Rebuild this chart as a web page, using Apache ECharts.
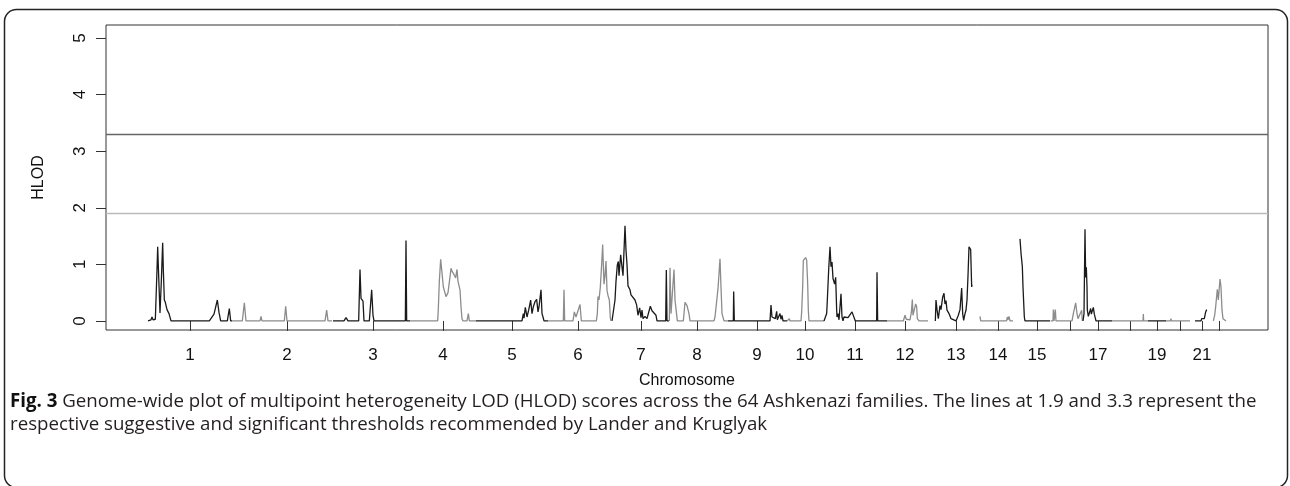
<!DOCTYPE html>
<html><head><meta charset="utf-8">
<script src="https://cdn.jsdelivr.net/npm/echarts@6/dist/echarts.min.js"></script>
<style>html,body{margin:0;padding:0;background:#fff}#c{width:1290px;height:486px}</style>
</head><body><div id="c"></div>
<script>
// Chromosome labels and tick positions (cumulative cM, chromosome centres)
const chromosomes = ['1','2','3','4','5','6','7','8','9','10','11','12','13','14','15','16','17','18','19','20','21','22'];
const chromMid = [252,543,801,1011,1218,1416,1605,1773,1953,2097,2247,2397,2550,2676,2793,2892,2976,3072,3153,3222,3288,3340];
const hiddenLabels = ['16','18','20','22'];
const yTicks = [0,1,2,3,4,5];
const thresholds = [1.9, 3.3];

// HLOD profiles per chromosome: [cumulative position (cM), HLOD]
const chr1 = [[126,0],[135,0.02],[138,0.07],[141,0.02],[148,0.03],[153,0.9],[155,1.31],[158,0.8],[162,0.14],[166,0.7],[170,1.38],[172,0.9],[175,0.37],[178,0.33],[183,0.2],[186,0.22],[189,0.13],[192,0.1],[195,0],[310,0],[324,0.12],[334,0.37],[339,0.15],[344,0],[364,0],[370,0.22],[374,0],[378,0]];
const chr2 = [[378,0],[409,0],[415,0.32],[420,0],[462,0],[465,0.08],[468,0],[535,0],[539,0.26],[543,0],[657,0],[662,0.19],[666,0],[678,0]];
const chr3 = [[681,0],[714,0],[720,0.06],[726,0],[758,0],[762,0.91],[765,0.4],[768,0.42],[771,0.35],[774,0],[790,0],[797,0.55],[801,0.1],[804,0],[898,0],[900,1.42],[902,0],[912,0]];
const chr4 = [[912,0],[929,0],[930,0.02],[932,0],[995,0],[997,0.22],[1000,0.7],[1004,1.09],[1008,0.85],[1012,0.6],[1016,0.62],[1020,0.43],[1026,0.5],[1032,0.78],[1035,0.93],[1038,0.88],[1044,0.82],[1049,0.76],[1053,0.91],[1056,0.7],[1059,0.68],[1062,0.55],[1065,0.25],[1068,0.04],[1071,0],[1083,0],[1087,0.13],[1090,0],[1110,0]];
const chr5 = [[1110,0],[1248,0],[1252,0.13],[1254,0.05],[1258,0.24],[1263,0.07],[1268,0.19],[1274,0.37],[1278,0.13],[1282,0.25],[1287,0.34],[1292,0.38],[1296,0.16],[1299,0.25],[1305,0.55],[1308,0.13],[1311,0.07],[1314,0],[1326,0]];
const chr6 = [[1326,0],[1372,0],[1374,0.55],[1376,0],[1401,0],[1405,0.16],[1410,0.07],[1414,0.1],[1422,0.29],[1426,0],[1471,0],[1474,0.13],[1476,0.43],[1479,0.37],[1483,0.6],[1487,1.0],[1490,1.35],[1494,0.65],[1497,0.8],[1500,1.06],[1503,0.54],[1506,0.45],[1510,0.37],[1513,0.05],[1515,0]];
const chr7 = [[1518,0],[1522,0],[1527,0.37],[1530,0.7],[1534,0.99],[1537,1.05],[1539,0.8],[1544,1.17],[1548,0.95],[1551,0.8],[1557,1.68],[1560,1.25],[1563,1.0],[1566,0.62],[1572,0.55],[1575,0.46],[1581,0.47],[1587,0.37],[1592,0.28],[1596,0.1],[1601,0.23],[1605,0.06],[1608,0.19],[1611,0.04],[1617,0.08],[1623,0.04],[1629,0.05],[1633,0.26],[1638,0.18],[1644,0.17],[1650,0.1],[1653,0],[1679,0],[1681,0.9],[1683,0],[1689,0]];
const chr8 = [[1690,0],[1692,0.94],[1695,0.13],[1698,0.1],[1704,0.91],[1707,0.37],[1712,0.37],[1714,0],[1732,0],[1737,0.33],[1743,0.27],[1749,0.13],[1752,0],[1824,0],[1827,0.07],[1832,0.1],[1836,0.57],[1842,1.1],[1845,0.6],[1848,0.13],[1854,0],[1866,0]];
const chr9 = [[1866,0],[1882,0],[1883,0.52],[1885,0],[1992,0],[1995,0.28],[1998,0.07],[2008,0.04],[2012,0.17],[2014,0.02],[2022,0.13],[2025,0.03],[2028,0.1],[2031,0],[2043,0]];
const chr10 = [[2043,0],[2048,0],[2050,0.04],[2052,0],[2085,0],[2087,0.16],[2090,0.6],[2092,1.07],[2096,1.1],[2099,1.12],[2102,1.07],[2105,0.66],[2107,0.19],[2109,0],[2154,0]];
const chr11 = [[2154,0],[2159,0],[2162,0.13],[2164,0.37],[2168,0.9],[2172,1.31],[2175,0.96],[2178,1.04],[2181,0.75],[2186,0.65],[2189,0.77],[2192,0.19],[2193,0.07],[2196,0.13],[2199,0.02],[2205,0.48],[2208,0.07],[2211,0],[2214,0.07],[2220,0.1],[2226,0.06],[2232,0.07],[2238,0.16],[2244,0.15],[2248,0],[2312,0],[2313,0.86],[2315,0],[2343,0]];
const chr12 = [[2343,0],[2392,0],[2397,0.1],[2401,0.03],[2406,0.04],[2412,0.02],[2416,0.15],[2419,0.38],[2421,0.1],[2425,0.07],[2429,0.3],[2432,0.25],[2434,0.04],[2439,0],[2466,0]];
const chr13 = [[2488,0],[2490,0.37],[2493,0.2],[2497,0.04],[2502,0.27],[2505,0.2],[2510,0.42],[2514,0.49],[2517,0.3],[2520,0.36],[2523,0.19],[2529,0.13],[2535,0.04],[2541,0.02],[2550,0],[2557,0.1],[2562,0.2],[2567,0.58],[2570,0.13],[2573,0.01],[2577,0.13],[2580,0.19],[2583,0.37],[2586,0.8],[2589,1.31],[2592,1.28],[2594,1.26],[2597,0.6],[2598,0.64]];
const chr14 = [[2622,0.08],[2624,0],[2702,0],[2704,0.07],[2706,0.02],[2709,0.08],[2712,0],[2721,0]];
const chr15 = [[2742,1.45],[2745,1.2],[2749,0.96],[2751,0.6],[2755,0.07],[2757,0],[2832,0]];
const chr16 = [[2834,0],[2841,0],[2842,0.2],[2844,0],[2847,0],[2848,0.2],[2850,0],[2898,0],[2902,0.13],[2909,0.32],[2913,0.13],[2916,0.04],[2922,0.03],[2927,0.19],[2929,0]];
const chr17 = [[2931,0],[2934,0.13],[2937,1.62],[2939,0.77],[2941,0.95],[2943,0.6],[2944,0.19],[2947,0.08],[2954,0.22],[2956,0.12],[2962,0.24],[2965,0.12],[2970,0],[3018,0]];
const chr18 = [[3018,0],[3040,0],[3042,0.03],[3043,0],[3111,0],[3112,0.12],[3113,0],[3126,0]];
const chr19 = [[3126,0],[3150,0],[3180,0]];
const chr20 = [[3180,0],[3193,0],[3195,0.04],[3196,0],[3252,0]];
const chr21 = [[3267,0],[3285,0],[3287,0.04],[3291,0.02],[3295,0.04],[3299,0.16],[3302,0.2]];
const chr22 = [[3322,0],[3326,0.1],[3329,0.25],[3334,0.56],[3337,0.37],[3342,0.74],[3345,0.6],[3348,0.19],[3351,0.04],[3360,0]];

const chromData = [chr1,chr2,chr3,chr4,chr5,chr6,chr7,chr8,chr9,chr10,chr11,chr12,chr13,chr14,chr15,chr16,chr17,chr18,chr19,chr20,chr21,chr22];

const FONT = 'Liberation Sans';
const CAP_FONT = 'Open Sans';
const BLACK = '#1a1a1a', GREY = '#8c8c8c';

const series = chromData.map((d, i) => ({
  type: 'line', name: 'chr' + chromosomes[i], data: d,
  showSymbol: false, symbol: 'none', silent: true, animation: false, z: 3,
  lineStyle: { color: i % 2 === 0 ? BLACK : GREY, width: 1.3 },
  itemStyle: { color: i % 2 === 0 ? BLACK : GREY }
}));
series[0].markLine = {
  silent: true, symbol: 'none', animation: false, label: { show: false },
  data: [
    { yAxis: thresholds[1], lineStyle: { color: '#666', width: 1.3, type: 'solid' } },
    { yAxis: thresholds[0], lineStyle: { color: '#bbb', width: 1.3, type: 'solid' } }
  ]
};

const labelValues = chromMid.filter((v, i) => !hiddenLabels.includes(chromosomes[i]));

const chart = echarts.init(document.getElementById('c'), null, { renderer: 'canvas' });
chart.setOption({
  animation: false,
  backgroundColor: '#fff',
  grid: { left: 106, top: 25, right: 22, bottom: 156, show: true, borderColor: '#333', borderWidth: 1, backgroundColor: 'transparent' },
  xAxis: {
    type: 'value', min: 0, max: 3486,
    axisLine: { show: false }, splitLine: { show: false },
    axisTick: { show: true, length: 10, customValues: chromMid, lineStyle: { color: '#333', width: 1 } },
    axisLabel: { customValues: labelValues, formatter: v => chromosomes[chromMid.indexOf(v)], margin: 17, fontSize: 17, color: '#111', fontFamily: FONT },
    name: 'Chromosome', nameLocation: 'middle', nameGap: 43,
    nameTextStyle: { fontSize: 16, color: '#111', fontFamily: FONT }
  },
  yAxis: {
    type: 'value', min: -0.16, max: 5.23,
    axisLine: { show: false }, splitLine: { show: false },
    axisTick: { show: true, length: 10, customValues: yTicks, lineStyle: { color: '#333', width: 1 } },
    axisLabel: { customValues: yTicks, rotate: 90, margin: 17, fontSize: 17, color: '#111', fontFamily: FONT },
    name: 'HLOD', nameLocation: 'middle', nameGap: 59, nameRotate: 90,
    nameTextStyle: { fontSize: 16, color: '#111', fontFamily: FONT }
  },
  graphic: [
    { type: 'rect', silent: true, z: 0, shape: { x: 4.5, y: 9.5, width: 1283, height: 478, r: 12 },
      style: { fill: 'none', stroke: '#222', lineWidth: 1.5 } },
    { type: 'text', silent: true, x: 10, y: 402, style: {
        text: '{b|Fig. 3} Genome-wide plot of multipoint heterogeneity LOD (HLOD) scores across the 64 Ashkenazi families. The lines at 1.9 and 3.3 represent the',
        fontSize: 18.7, fontFamily: CAP_FONT, fill: '#231f20', verticalAlign: 'middle',
        rich: { b: { fontWeight: 'bold', fontSize: 18.7, fontFamily: CAP_FONT, fill: '#111' } } } },
    { type: 'text', silent: true, x: 10, y: 425, style: {
        text: 'respective suggestive and significant thresholds recommended by Lander and Kruglyak',
        fontSize: 18.7, fontFamily: CAP_FONT, fill: '#231f20', verticalAlign: 'middle' } }
  ],
  series: series
});
</script></body></html>
